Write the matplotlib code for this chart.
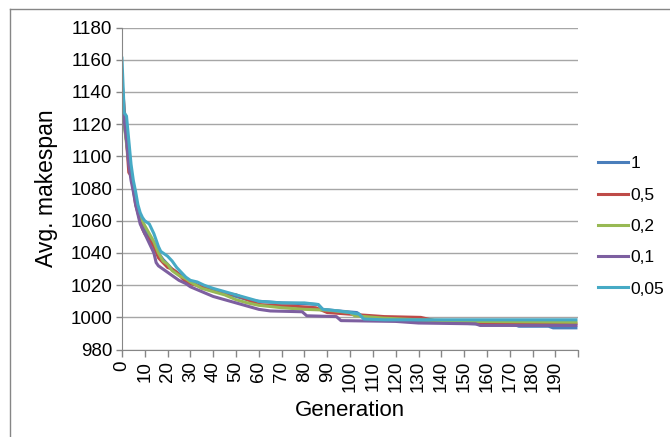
import matplotlib
matplotlib.use("Agg")
import matplotlib.pyplot as plt
from matplotlib.lines import Line2D

plt.rcParams['font.family'] = ['Liberation Sans', 'DejaVu Sans']

# Data (generation, avg. makespan)
gen_1 = [0, 1, 2, 3, 4, 5, 6, 7, 8, 9, 10, 12, 14, 16, 18, 20, 22, 25, 28, 30, 35, 40, 45, 50, 55, 60, 70, 80, 86, 88, 95, 103, 105, 112, 120, 140, 155, 172, 174, 187, 189, 199]
val_1 = [1135, 1120, 1110, 1098, 1088, 1080, 1072, 1066, 1062, 1058, 1055, 1050, 1046, 1040, 1036, 1033, 1030, 1027, 1024, 1022, 1019, 1017, 1015, 1013, 1011, 1010, 1009, 1008.5, 1008, 1005, 1004, 1003, 1001, 999, 998, 997, 996, 995.5, 994.5, 994.5, 993.5, 993.5]

gen_05 = [0, 1, 2, 3, 4, 5, 6, 7, 8, 9, 10, 12, 14, 16, 18, 20, 22, 24, 26, 28, 30, 35, 40, 45, 50, 55, 60, 65, 75, 85, 90, 100, 110, 115, 131, 140, 155, 199]
val_05 = [1147, 1130, 1110, 1090, 1088, 1080, 1070, 1065, 1060, 1055, 1052, 1048, 1044, 1037, 1034, 1031, 1030, 1028, 1025, 1022, 1021, 1019, 1017, 1015, 1014, 1011, 1008, 1007.5, 1007, 1006, 1003, 1002, 1001, 1000.5, 1000, 997, 996.5, 996]

gen_02 = [0, 1, 2, 3, 4, 5, 6, 7, 8, 9, 10, 12, 14, 16, 18, 20, 22, 25, 28, 30, 35, 40, 45, 50, 55, 60, 70, 80, 90, 100, 102, 115, 130, 155, 199]
val_02 = [1130, 1120, 1108, 1098, 1090, 1082, 1074, 1068, 1063, 1060, 1057, 1052, 1047, 1040, 1035, 1033, 1029, 1026, 1024, 1022, 1018, 1016, 1014, 1011, 1009, 1007.5, 1006, 1005, 1004.5, 1003, 1001, 999.5, 998.5, 997.5, 997]

gen_01 = [0, 1, 2, 3, 4, 5, 6, 7, 8, 9, 10, 12, 14, 15, 16, 18, 20, 22, 25, 28, 30, 35, 40, 45, 50, 55, 60, 65, 79, 81, 94, 96, 120, 130, 155, 157, 199]
val_01 = [1140, 1122, 1110, 1095, 1085, 1078, 1070, 1064, 1058, 1055, 1052, 1046, 1040, 1034, 1032, 1030, 1028, 1026, 1023, 1021, 1019, 1016, 1013, 1011, 1009, 1007, 1005, 1004, 1003.5, 1001, 1000.5, 998, 997.5, 996.5, 996, 995, 995]

gen_005 = [0, 1, 2, 3, 4, 5, 6, 7, 8, 9, 10, 11, 12, 13, 14, 15, 16, 17, 18, 20, 22, 24, 26, 28, 30, 33, 36, 40, 45, 50, 55, 60, 70, 80, 86, 88, 95, 100, 104, 106, 115, 130, 199]
val_005 = [1161, 1127, 1125, 1110, 1095, 1085, 1078, 1070, 1065, 1062, 1060, 1059, 1058, 1055, 1052, 1048, 1044, 1041, 1040, 1038, 1035, 1031, 1028, 1025, 1023, 1022, 1020, 1018, 1016, 1014, 1012, 1010, 1009, 1009, 1008, 1005, 1004, 1003, 1002, 999, 998.5, 998.5, 998.5]

labels = ["1", "0,5", "0,2", "0,1", "0,05"]
colors = ["#4A7EBB", "#BE4B48", "#98B954", "#7D5FA0", "#46AAC5"]

fig = plt.figure(figsize=(6.70, 4.37), dpi=100)
ax = fig.add_axes([0.182, 0.200, 0.681, 0.737])

series = [(gen_1, val_1), (gen_05, val_05), (gen_02, val_02), (gen_01, val_01), (gen_005, val_005)]
for (g, v), lab, c in zip(series, labels, colors):
    ax.plot(g, v, color=c, lw=2.2, label=lab)

ax.set_xlim(0, 200)
ax.set_ylim(980, 1180)
ax.set_yticks(range(980, 1181, 20))
ax.set_xticks(range(0, 201, 10))
ax.set_xticklabels([str(x) for x in range(0, 200, 10)] + [""], rotation=90)
ax.tick_params(axis='both', labelsize=13.5, color="#868686", length=5, width=1, pad=3)
ax.tick_params(axis='y', length=4)
ax.grid(axis='y', color="#A6A6A6", lw=1)
ax.set_axisbelow(True)
for s in ['top', 'right']:
    ax.spines[s].set_visible(False)
for s in ['left', 'bottom']:
    ax.spines[s].set_color("#868686")
ax.set_ylabel("Avg. makespan", fontsize=16.5, labelpad=9)
ax.set_xlabel("Generation", fontsize=16, labelpad=6)

fig.legend(loc='center left', bbox_to_anchor=(0.8925, 0.482), frameon=False,
           fontsize=12.5, handlelength=1.75, labelspacing=0.93, handletextpad=0.12,
           borderpad=0, borderaxespad=0)

# chart area border (left and top edges visible)
fig.add_artist(Line2D([10/670, 10/670], [0, 1 - 9/437], color="#868686", lw=1, transform=fig.transFigure))
fig.add_artist(Line2D([10/670, 1], [1 - 9/437, 1 - 9/437], color="#868686", lw=1, transform=fig.transFigure))

fig.savefig("out.png", dpi=100)
